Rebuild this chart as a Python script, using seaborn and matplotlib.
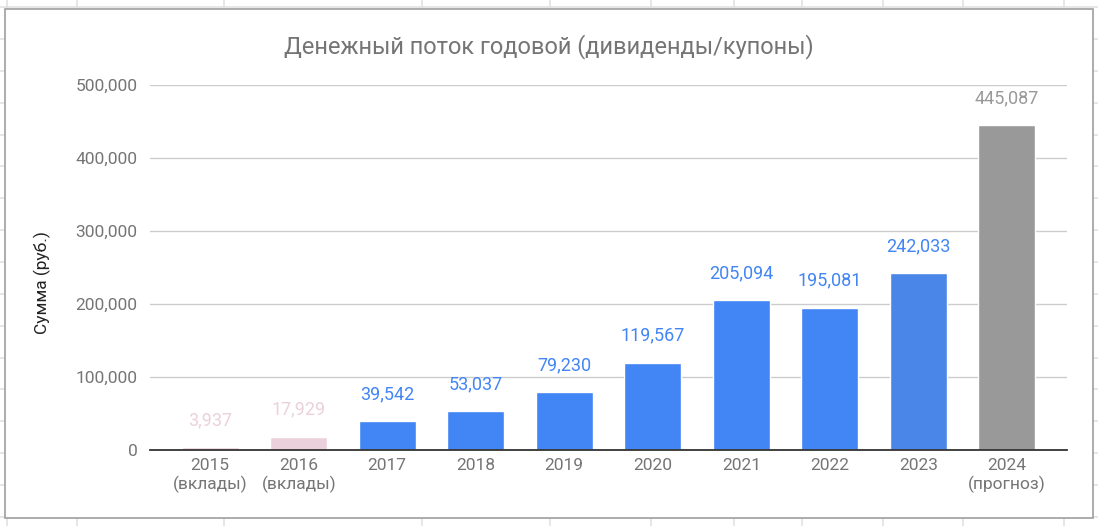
import matplotlib
matplotlib.use("Agg")
import matplotlib.pyplot as plt
import seaborn as sns
import pandas as pd
from matplotlib.patches import Rectangle
from matplotlib.lines import Line2D
from matplotlib.ticker import FuncFormatter, MultipleLocator

categories = ["2015\n(вклады)", "2016\n(вклады)", "2017", "2018", "2019",
              "2020", "2021", "2022", "2023", "2024\n(прогноз)"]
values = [3937, 17929, 39542, 53037, 79230, 119567, 205094, 195081, 242033, 445087]
bar_colors = ["#ead1dc", "#ead1dc", "#4285f4", "#4285f4", "#4285f4",
              "#4285f4", "#4285f4", "#4285f4", "#4a86e8", "#999999"]
label_colors = ["#ead1dc", "#ead1dc", "#4285f4", "#4285f4", "#4285f4",
                "#4285f4", "#4285f4", "#4285f4", "#4285f4", "#999999"]
title = "Денежный поток годовой (дивиденды/купоны)"
ylabel = "Сумма (руб.)"

sns.set_theme(style="white")
plt.rcParams["font.family"] = ["Roboto", "DejaVu Sans"]

W, H = 1098, 526
fig = plt.figure(figsize=(W / 100, H / 100), dpi=100)
fig.patch.set_facecolor("white")

# spreadsheet background grid
cell_color = "#e2e2e2"
for x in [7, 77, 224, 422, 550, 651, 734, 802, 883, 963, 1064]:
    fig.add_artist(Line2D([x / W, x / W], [0, 1], transform=fig.transFigure,
                          color=cell_color, lw=1.2, zorder=-5))
for y in [7] + [39 + 31.85 * k for k in range(16)]:
    fig.add_artist(Line2D([0, 1], [1 - y / H, 1 - y / H], transform=fig.transFigure,
                          color=cell_color, lw=1.2, zorder=-5))
# chart frame
fig.add_artist(Rectangle((5 / W, 1 - 518 / H), (1093 - 5) / W, (518 - 9) / H,
                         transform=fig.transFigure, facecolor="white",
                         edgecolor="#9e9e9e", lw=1.2, zorder=-2))

ax = fig.add_axes([150 / W, 1 - 450 / H, (1067 - 150) / W, (450 - 85) / H])
ax.patch.set_alpha(0)

df = pd.DataFrame({"cat": categories, "val": values})
sns.barplot(data=df, x="cat", y="val", hue="cat", palette=bar_colors,
            legend=False, width=0.64, ax=ax, saturation=1, zorder=3)

ax.set_ylim(0, 500000)
ax.set_xlim(-0.68, len(categories) - 1 + 0.68)
ax.yaxis.set_major_locator(MultipleLocator(100000))
ax.yaxis.set_major_formatter(FuncFormatter(lambda v, p: f"{int(v):,}"))
ax.grid(axis="y", color="#cccccc", lw=1, zorder=0)
ax.grid(axis="x", visible=False)
for s in ["top", "right", "left"]:
    ax.spines[s].set_visible(False)
ax.spines["bottom"].set_color("#333333")
ax.spines["bottom"].set_linewidth(1.3)
ax.spines["bottom"].set_zorder(4)

ax.tick_params(axis="both", length=0, labelsize=12.5, labelcolor="#757575")
ax.tick_params(axis="y", pad=9)
ax.tick_params(axis="x", pad=6)
ax.set_xlabel("")
ax.set_ylabel(ylabel, fontsize=12.5, color="#222222")
ax.yaxis.set_label_coords(-0.108, 0.458)

for i, (v, c) in enumerate(zip(values, label_colors)):
    ax.annotate(f"{v:,}", (i, v), xytext=(0, 13), textcoords="offset points",
                ha="center", va="bottom", fontsize=13, color=c,
                annotation_clip=False)

fig.text(0.5, 1 - 47 / H, title, ha="center", va="center",
         fontsize=17, color="#757575")

fig.savefig("out.png", dpi=100)
